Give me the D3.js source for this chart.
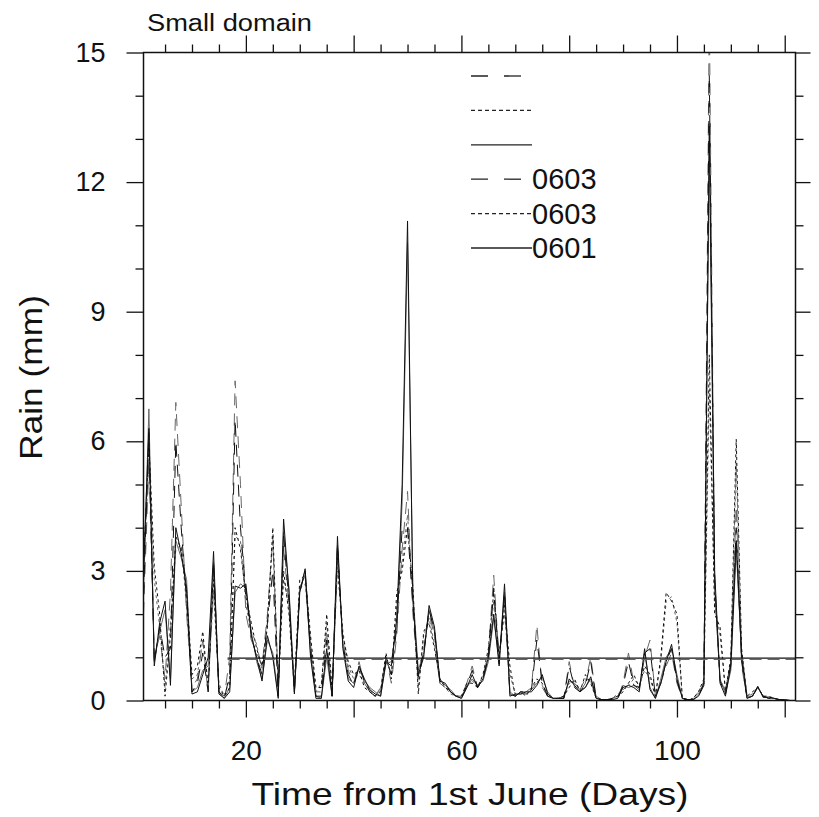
<!DOCTYPE html>
<html>
<head>
<meta charset="utf-8">
<script src="https://cdn.jsdelivr.net/npm/d3@7"></script>
<style>
  body { margin: 0; background: #fff; }
  svg { display: block; font-family: "Liberation Sans", Arial, sans-serif; }
</style>
</head>
<body>
<div id="container"></div>
<script>
/*** DATA ***/
const firstDay = 1;
const lastDay = 122;

// unlabeled long-dash run
const rainA = [
  2.0, 5.5, 1.0, 1.5, 0.5, 2.5, 6.9, 4.5, 2.0, 0.3,
  0.5, 1.4, 0.15, 3.0, 0.2, 0.1, 1.0, 7.4, 5.0, 2.0,
  1.4, 1.1, 0.8, 2.0, 3.8, 0.2, 3.5, 2.2, 0.2, 2.6,
  3.0, 1.3, 0.2, 0.2, 1.6, 0.1, 3.5, 1.4, 0.7, 0.4,
  0.9, 0.4, 0.2, 0.1, 0.3, 1.0, 0.4, 1.5, 3.5, 4.84,
  2.0, 0.5, 1.2, 2.0, 1.5, 0.4, 0.3, 0.2, 0.1, 0.1,
  0.4, 0.8, 0.3, 0.5, 1.1, 2.9, 0.9, 2.4, 0.2, 0.1,
  0.2, 0.2, 0.3, 1.75, 0.3, 0.1, 0.05, 0.05, 0.05, 0.9,
  0.3, 0.2, 0.4, 1.0, 0.05, 0.02, 0.02, 0.02, 0.02, 0.4,
  1.1, 0.4, 0.3, 1.0, 1.4, 0.1, 0.4, 0.8, 1.1, 0.4,
  0.05, 0.02, 0.02, 0.1, 0.4, 16.0, 2.5, 0.5, 0.2, 0.9,
  4.5, 0.8, 0.05, 0.15, 0.3, 0.1, 0.05, 0.05, 0.02, 0.0,
  0.0, 0.0
];
// unlabeled dotted run
const rainB = [
  2.8, 5.6, 2.8, 1.7, 0.3, 1.8, 3.5, 3.6, 2.2, 0.5,
  0.6, 1.4, 0.4, 2.5, 0.4, 0.1, 0.5, 3.8, 3.7, 2.2,
  1.6, 1.3, 0.7, 1.9, 3.7, 0.4, 2.8, 2.2, 0.4, 2.6,
  2.7, 1.4, 0.2, 0.4, 1.8, 0.3, 3.0, 1.6, 0.8, 0.5,
  0.6, 0.4, 0.25, 0.1, 0.25, 1.0, 0.6, 2.2, 3.2, 4.3,
  2.4, 0.3, 1.5, 1.9, 1.3, 0.4, 0.3, 0.15, 0.1, 0.1,
  0.35, 0.45, 0.35, 0.55, 1.1, 2.3, 1.1, 2.0, 0.6, 0.15,
  0.15, 0.15, 0.25, 0.45, 0.35, 0.1, 0.05, 0.05, 0.1, 0.4,
  0.45, 0.25, 0.5, 0.45, 0.05, 0.02, 0.02, 0.05, 0.15, 0.25,
  0.35, 0.5, 0.35, 0.7, 0.5, 0.1, 0.9, 2.3, 2.4, 1.8,
  0.05, 0.02, 0.05, 0.2, 0.45, 7.2, 2.2, 1.5, 0.25, 0.9,
  5.5, 1.1, 0.1, 0.15, 0.3, 0.1, 0.05, 0.05, 0.02, 0.0,
  0.0, 0.0
];
// unlabeled solid run
const rainC = [
  2.6, 6.75, 0.9, 1.6, 2.1, 0.5, 3.7, 3.3, 2.8, 0.2,
  0.3, 0.7, 0.8, 3.2, 0.2, 0.05, 0.3, 2.5, 2.7, 2.6,
  1.6, 0.9, 0.5, 1.4, 1.1, 0.1, 3.9, 2.6, 0.2, 2.6,
  2.9, 1.1, 0.1, 0.05, 1.0, 0.1, 3.6, 1.3, 0.5, 0.4,
  0.75, 0.45, 0.3, 0.2, 0.1, 0.85, 0.9, 1.7, 4.6, 10.6,
  2.5, 0.7, 1.1, 2.1, 1.6, 0.5, 0.35, 0.25, 0.1, 0.05,
  0.3, 0.5, 0.35, 0.45, 0.9, 1.9, 0.9, 2.5, 0.15, 0.1,
  0.2, 0.15, 0.25, 0.4, 0.55, 0.2, 0.05, 0.05, 0.1, 0.45,
  0.4, 0.25, 0.3, 0.5, 0.1, 0.02, 0.02, 0.05, 0.1, 0.35,
  0.3, 0.35, 0.25, 1.1, 0.3, 0.05, 0.5, 1.0, 1.2, 0.6,
  0.05, 0.02, 0.02, 0.15, 0.4, 12.8, 2.6, 0.5, 0.15, 0.7,
  3.5, 1.1, 0.1, 0.1, 0.3, 0.1, 0.05, 0.05, 0.02, 0.02,
  0.0, 0.0
];
// 0603 long-dash
const rainD = [
  2.4, 6.2, 0.9, 1.7, 1.0, 1.2, 6.0, 4.0, 2.3, 0.2,
  0.4, 1.1, 0.2, 3.2, 0.2, 0.05, 0.6, 6.5, 4.0, 2.5,
  1.5, 1.0, 0.6, 1.8, 3.0, 0.1, 3.8, 2.3, 0.2, 2.5,
  3.0, 1.2, 0.1, 0.1, 1.4, 0.1, 3.6, 1.3, 0.6, 0.35,
  0.8, 0.45, 0.2, 0.1, 0.2, 0.95, 0.6, 1.7, 4.0, 4.0,
  2.2, 0.55, 1.1, 2.1, 1.6, 0.45, 0.35, 0.2, 0.1, 0.05,
  0.35, 0.7, 0.3, 0.5, 1.0, 2.6, 0.85, 2.5, 0.15, 0.1,
  0.2, 0.2, 0.25, 1.4, 0.4, 0.1, 0.05, 0.05, 0.05, 0.8,
  0.3, 0.2, 0.35, 0.9, 0.05, 0.02, 0.02, 0.02, 0.05, 0.35,
  0.9, 0.35, 0.3, 1.1, 1.2, 0.1, 0.4, 0.9, 1.2, 0.45,
  0.05, 0.02, 0.02, 0.1, 0.4, 14.5, 2.8, 0.45, 0.15, 0.85,
  4.0, 0.9, 0.05, 0.1, 0.3, 0.1, 0.05, 0.05, 0.02, 0.0,
  0.0, 0.0
];
// 0603 dotted
const rainE = [
  3.0, 6.0, 3.1, 2.0, 0.1, 1.5, 3.8, 3.5, 2.5, 0.6,
  0.8, 1.6, 0.3, 2.8, 0.3, 0.1, 0.3, 4.0, 3.5, 2.4,
  1.8, 1.2, 0.8, 1.7, 4.0, 0.3, 3.0, 2.0, 0.3, 2.8,
  2.9, 1.5, 0.3, 0.3, 2.0, 0.2, 3.3, 1.5, 0.9, 0.6,
  0.7, 0.3, 0.2, 0.1, 0.2, 1.1, 0.5, 2.5, 3.0, 4.0,
  2.6, 0.15, 1.6, 1.8, 1.2, 0.5, 0.3, 0.2, 0.1, 0.1,
  0.4, 0.4, 0.3, 0.6, 1.2, 2.5, 1.0, 2.2, 0.8, 0.1,
  0.2, 0.1, 0.3, 0.5, 0.4, 0.1, 0.05, 0.05, 0.1, 0.3,
  0.5, 0.2, 0.6, 0.4, 0.05, 0.02, 0.02, 0.05, 0.1, 0.2,
  0.4, 0.6, 0.3, 0.8, 0.6, 0.1, 1.0, 2.5, 2.3, 2.0,
  0.05, 0.0, 0.05, 0.2, 0.5, 8.0, 2.0, 1.7, 0.2, 1.0,
  6.05, 1.2, 0.1, 0.2, 0.3, 0.1, 0.1, 0.05, 0.02, 0.0,
  0.0, 0.0
];
// 0601 solid
const rainF = [
  3.0, 6.3, 0.8, 1.8, 2.3, 0.35, 4.0, 3.4, 2.6, 0.15,
  0.2, 0.6, 1.0, 3.45, 0.15, 0.05, 0.2, 2.65, 2.6, 2.7,
  1.5, 1.0, 0.45, 1.5, 1.0, 0.05, 4.2, 2.5, 0.15, 2.5,
  3.05, 1.0, 0.05, 0.05, 1.2, 0.1, 3.8, 1.2, 0.45, 0.3,
  0.8, 0.5, 0.25, 0.15, 0.1, 0.9, 0.8, 1.9, 5.0, 11.1,
  2.3, 0.6, 1.0, 2.2, 1.7, 0.45, 0.4, 0.2, 0.1, 0.05,
  0.3, 0.6, 0.3, 0.5, 1.0, 2.0, 0.8, 2.7, 0.1, 0.15,
  0.15, 0.2, 0.2, 0.35, 0.6, 0.15, 0.05, 0.05, 0.05, 0.5,
  0.35, 0.2, 0.3, 0.55, 0.05, 0.02, 0.02, 0.02, 0.05, 0.3,
  0.35, 0.3, 0.2, 1.2, 0.25, 0.05, 0.4, 0.9, 1.3, 0.5,
  0.05, 0.02, 0.02, 0.1, 0.35, 13.3, 3.0, 0.4, 0.1, 0.8,
  3.7, 1.0, 0.05, 0.1, 0.33, 0.07, 0.08, 0.05, 0.02, 0.02,
  0.0, 0.0
];

const seriesNames = ["", "", "", "0603", "0603", "0601"];
const seriesValues = [rainA, rainB, rainC, rainD, rainE, rainF];
const seriesDash = ["12,8", "3,3", null, "12,8", "3,3", null];
const seriesColor = ["#666", "#666", "#666", "#111", "#111", "#111"];

// horizontal mean levels drawn from day 16.6 on
const meanLevels = [0.98, 0.95];
const meanDash = [null, "12,6"];
const meanStart = 16.6;

const yTicks = [0, 3, 6, 9, 12, 15];
const xLabelTicks = [20, 60, 100];

/*** LAYOUT ***/
const width = 819, height = 817;
const plot = { left: 143.5, right: 795.5, top: 52.5, bottom: 700.5 };

let svg = d3.select("#container").append("svg")
  .attr("width", width).attr("height", height);

const x = d3.scaleLinear().domain([firstDay, lastDay]).range([plot.left, plot.right]);
const y = d3.scaleLinear().domain([0, 15]).range([plot.bottom, plot.top]);

const days = d3.range(firstDay, lastDay + 1);

svg.append("clipPath").attr("id", "clip")
  .append("rect")
  .attr("x", plot.left).attr("y", plot.top)
  .attr("width", plot.right - plot.left).attr("height", plot.bottom - plot.top);

const lineGen = d3.line()
  .x((d, i) => x(days[i]))
  .y(d => y(d));

const lines = svg.append("g").attr("clip-path", "url(#clip)");

seriesValues.forEach((vals, k) => {
  lines.append("path")
    .datum(vals)
    .attr("d", lineGen)
    .attr("fill", "none")
    .attr("stroke", seriesColor[k])
    .attr("stroke-width", 1)
    .attr("stroke-dasharray", seriesDash[k]);
});

meanLevels.forEach((m, k) => {
  lines.append("line")
    .attr("x1", x(meanStart)).attr("x2", x(lastDay))
    .attr("y1", y(m)).attr("y2", y(m))
    .attr("stroke", k == 0 ? "#111" : "#666")
    .attr("stroke-width", 1.3)
    .attr("stroke-dasharray", meanDash[k]);
});

/*** AXES ***/
const xMajor = d3.range(20, 121, 20);
const xMinor = d3.range(5, 122, 5).filter(d => d % 20 != 0);
const yMajor = yTicks;
const yMinor = d3.range(1, 15).filter(d => d % 3 != 0);

// bottom axis
const axBottom = svg.append("g").attr("transform", `translate(0,${plot.bottom})`)
  .call(d3.axisBottom(x).tickValues(xMajor).tickSize(17).tickFormat(d => xLabelTicks.includes(d) ? d : ""));
axBottom.append("g").call(d3.axisBottom(x).tickValues(xMinor).tickSize(8).tickFormat(""));

// top axis
const axTop = svg.append("g").attr("transform", `translate(0,${plot.top})`)
  .call(d3.axisTop(x).tickValues(xMajor).tickSize(17).tickFormat(""));
axTop.append("g").call(d3.axisTop(x).tickValues(xMinor).tickSize(8).tickFormat(""));

// left axis
const axLeft = svg.append("g").attr("transform", `translate(${plot.left},0)`)
  .call(d3.axisLeft(y).tickValues(yMajor).tickSize(17).tickPadding(21));
axLeft.append("g").call(d3.axisLeft(y).tickValues(yMinor).tickSize(8).tickFormat(""));

// right axis
const axRight = svg.append("g").attr("transform", `translate(${plot.right},0)`)
  .call(d3.axisRight(y).tickValues(yMajor).tickSize(15).tickFormat(""));
axRight.append("g").call(d3.axisRight(y).tickValues(yMinor).tickSize(8).tickFormat(""));

svg.selectAll(".domain").remove();
svg.selectAll(".tick line").attr("stroke", "#111").attr("stroke-width", 1.3);

axBottom.selectAll(".tick text")
  .attr("font-size", 28).attr("fill", "#111")
  .attr("font-family", "Liberation Sans, Arial, sans-serif")
  .attr("dy", null).attr("y", 59);

axLeft.selectAll(".tick text")
  .attr("font-size", 27).attr("fill", "#111")
  .attr("font-family", "Liberation Sans, Arial, sans-serif");

// frame
svg.append("rect")
  .attr("x", plot.left).attr("y", plot.top)
  .attr("width", plot.right - plot.left).attr("height", plot.bottom - plot.top)
  .attr("fill", "none").attr("stroke", "#111").attr("stroke-width", 1.5);

/*** TITLES ***/
svg.append("text")
  .attr("x", 147).attr("y", 31)
  .attr("font-size", 23).attr("fill", "#111")
  .attr("textLength", 165).attr("lengthAdjust", "spacingAndGlyphs")
  .text("Small domain");

svg.append("text")
  .attr("x", 470).attr("y", 805)
  .attr("text-anchor", "middle")
  .attr("font-size", 32).attr("fill", "#111")
  .attr("textLength", 437).attr("lengthAdjust", "spacingAndGlyphs")
  .text("Time from 1st June (Days)");

svg.append("text")
  .attr("transform", "translate(42,377.5) rotate(-90)")
  .attr("text-anchor", "middle")
  .attr("font-size", 32).attr("fill", "#111")
  .attr("textLength", 165).attr("lengthAdjust", "spacingAndGlyphs")
  .text("Rain (mm)");

/*** LEGEND ***/
const legendY = d3.scaleLinear().domain([0, 5]).range([76, 248]);
const legend = svg.append("g");
seriesNames.forEach((name, k) => {
  legend.append("line")
    .attr("x1", 471).attr("x2", 532)
    .attr("y1", legendY(k)).attr("y2", legendY(k))
    .attr("stroke", "#222").attr("stroke-width", 1.3)
    .attr("stroke-dasharray", seriesDash[k] ? (seriesDash[k] == "3,3" ? "4,3" : "17,16") : null);
  legend.append("text")
    .attr("x", 532).attr("y", legendY(k))
    .attr("dy", "0.35em")
    .attr("font-size", 29).attr("fill", "#111")
    .text(name);
});
</script>
</body>
</html>
